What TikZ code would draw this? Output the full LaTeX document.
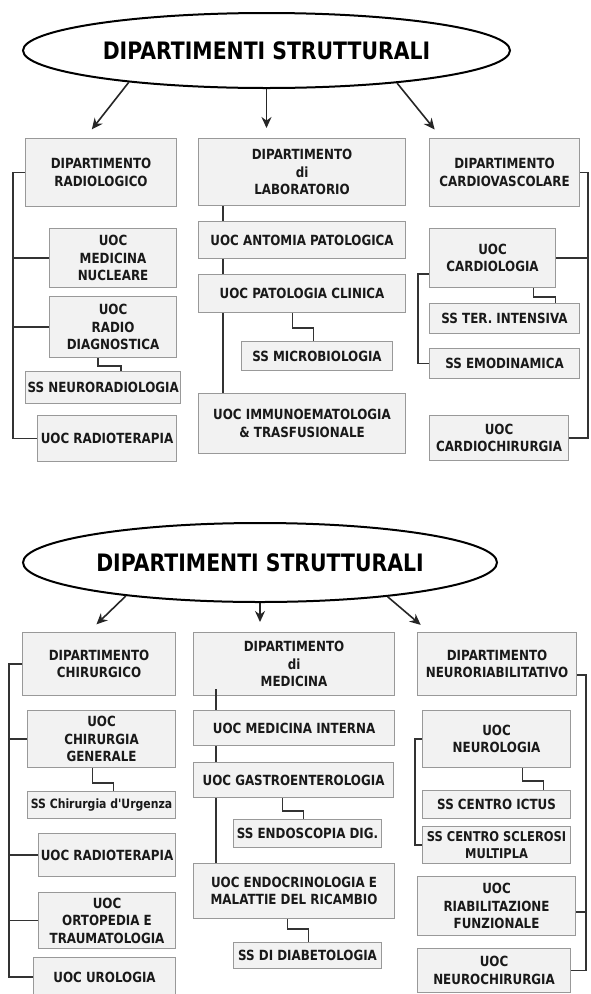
\documentclass[tikz,border=0pt]{standalone}
\usepackage{fontspec}
\newfontfamily\orgfont[FakeStretch=0.85]{DejaVu Sans Bold}
\usetikzlibrary{arrows.meta,shapes.geometric}

\begin{document}
\begin{tikzpicture}[x=1pt,y=-1pt,>={Stealth[length=11pt,width=10pt]},
                    link/.style={draw=black!80,line width=1.7pt},
                    arr/.style={->,draw=black!85,line width=1.6pt}]
  \tikzstyle{unit}=[draw=black!40,fill=black!5,line width=1.1pt,anchor=north west,
                    align=center,inner sep=2pt,text=black!90,
                    font=\orgfont\fontsize{14}{17.5}\selectfont]
  \tikzstyle{title}=[ellipse,draw=black,line width=2pt,fill=white,inner sep=0pt,
                     font=\orgfont\fontsize{24}{28}\selectfont]

  \useasboundingbox[fill=white] (0,0) rectangle (590,994);

  % upper chart
  \node[title] (top) at (266.5,50.5) [minimum width=487,minimum height=75] {DIPARTIMENTI STRUTTURALI};

  \node[unit] (rad)   at (25,138)  [minimum width=151,minimum height=68] {DIPARTIMENTO\\RADIOLOGICO};
  \node[unit] (mnuc)  at (49,228)  [minimum width=127,minimum height=59] {UOC\\MEDICINA\\NUCLEARE};
  \node[unit] (rdiag) at (49,296)  [minimum width=127,minimum height=61] {UOC\\RADIO\\DIAGNOSTICA};
  \node[unit] (sneu)  at (25,371)  [minimum width=151,minimum height=32] {SS NEURORADIOLOGIA};
  \node[unit] (rtp)   at (37,415)  [minimum width=139,minimum height=46] {UOC RADIOTERAPIA};

  \node[unit] (lab)   at (198,138) [minimum width=207,minimum height=67] {DIPARTIMENTO\\di\\LABORATORIO};
  \node[unit] (apat)  at (198,221) [minimum width=207,minimum height=37] {UOC ANTOMIA PATOLOGICA};
  \node[unit] (pclin) at (198,274) [minimum width=207,minimum height=38] {UOC PATOLOGIA CLINICA};
  \node[unit] (smic)  at (241,341) [minimum width=151,minimum height=29] {SS MICROBIOLOGIA};
  \node[unit] (imm)   at (198,393) [minimum width=207,minimum height=60] {UOC IMMUNOEMATOLOGIA\\\& TRASFUSIONALE};

  \node[unit] (cv)    at (429,138) [minimum width=150,minimum height=68] {DIPARTIMENTO\\CARDIOVASCOLARE};
  \node[unit] (card)  at (429,228) [minimum width=126,minimum height=59] {UOC\\CARDIOLOGIA};
  \node[unit] (ster)  at (429,303) [minimum width=150,minimum height=30] {SS TER. INTENSIVA};
  \node[unit] (semo)  at (429,348) [minimum width=150,minimum height=30] {SS EMODINAMICA};
  \node[unit] (cch)   at (429,415) [minimum width=139,minimum height=45] {UOC\\CARDIOCHIRURGIA};

  \draw[arr,shorten >=11pt] (top.193) -- ([xshift=-16pt]rad.north);
  \draw[arr,shorten >=10pt] (top.south) -- (top.south |- lab.north);
  \draw[arr,shorten >=11pt] (top.346) -- ([xshift=-63pt]cv.north);

  \coordinate (la) at (13,0);
  \coordinate (lb) at (223,0);
  \coordinate (lc) at (588,0);
  \coordinate (ld) at (418,0);

  \draw[link] (rad.west) -| (rtp.west -| la) -- (rtp.west);
  \draw[link] (mnuc.west -| la) -- (mnuc.west);
  \draw[link] (rdiag.west -| la) -- (rdiag.west);
  \draw[link] ([xshift=-15pt]rdiag.south) -- ++(0,8) -| ([xshift=18pt]sneu.north);

  \draw[link] (lab.south -| lb) -- (apat.north -| lb);
  \draw[link] (apat.south -| lb) -- (pclin.north -| lb);
  \draw[link] (pclin.south -| lb) -- (imm.north -| lb);
  \draw[link] ([xshift=-9.5pt]pclin.south) -- ++(0,15) -| ([xshift=-3.5pt]smic.north);

  \draw[link] (cv.east) -| (cch.east -| lc) -- (cch.east);
  \draw[link] (card.east) -- (card.east -| lc);
  \draw[link] ([yshift=14pt]card.south west) -| (semo.west -| ld) -- (semo.west);
  \draw[link] ([xshift=41pt]card.south) -- ++(0,9) -| ([xshift=51pt]ster.north);

  % lower chart
  \node[title] (bot) at (260,562.5) [minimum width=474,minimum height=79] {DIPARTIMENTI STRUTTURALI};

  \node[unit] (chir)  at (22,632)  [minimum width=153,minimum height=63] {DIPARTIMENTO\\CHIRURGICO};
  \node[unit] (cgen)  at (27,710)  [minimum width=148,minimum height=57] {UOC\\CHIRURGIA\\GENERALE};
  \node[unit] (surg)  at (27,791)  [minimum width=148,minimum height=27,inner xsep=0pt,font=\orgfont\fontsize{12.8}{15}\selectfont] {SS Chirurgia d'Urgenza};
  \node[unit] (rtp2)  at (38,833)  [minimum width=137,minimum height=43] {UOC RADIOTERAPIA};
  \node[unit] (orto)  at (38,892)  [minimum width=137,minimum height=56] {UOC\\ORTOPEDIA E\\TRAUMATOLOGIA};
  \node[unit] (uro)   at (33,957)  [minimum width=142,minimum height=39] {UOC UROLOGIA};

  \node[unit] (med)   at (193,632) [minimum width=201,minimum height=63] {DIPARTIMENTO\\di\\MEDICINA};
  \node[unit] (mint)  at (193,710) [minimum width=201,minimum height=35] {UOC MEDICINA INTERNA};
  \node[unit] (gas)   at (193,762) [minimum width=200,minimum height=35] {UOC GASTROENTEROLOGIA};
  \node[unit] (send)  at (233,819) [minimum width=148,minimum height=28] {SS ENDOSCOPIA DIG.};
  \node[unit] (endo)  at (193,863) [minimum width=201,minimum height=55] {UOC ENDOCRINOLOGIA E\\MALATTIE DEL RICAMBIO};
  \node[unit] (sdia)  at (233,942) [minimum width=148,minimum height=26] {SS DI DIABETOLOGIA};

  \node[unit] (neu)   at (417,632) [minimum width=159,minimum height=63] {DIPARTIMENTO\\NEURORIABILITATIVO};
  \node[unit] (nlog)  at (422,710) [minimum width=148,minimum height=57] {UOC\\NEUROLOGIA};
  \node[unit] (icts)  at (422,790) [minimum width=148,minimum height=28] {SS CENTRO ICTUS};
  \node[unit] (scl)   at (422,826) [minimum width=148,minimum height=37,inner xsep=0pt,font=\orgfont\fontsize{13.5}{16.5}\selectfont] {SS CENTRO SCLEROSI\\MULTIPLA};
  \node[unit] (riab)  at (417,876) [minimum width=158,minimum height=59] {UOC\\RIABILITAZIONE\\FUNZIONALE};
  \node[unit] (nch)   at (417,948) [minimum width=153,minimum height=44] {UOC\\NEUROCHIRURGIA};

  \draw[arr,shorten >=11pt] (bot.194) -- ([xshift=-10.5pt]chir.north);
  \draw[arr,shorten >=10pt] (bot.south) -- (bot.south |- med.north);
  \draw[arr,shorten >=11pt] (bot.345) -- ([xshift=-68pt]neu.north);

  \coordinate (le) at (9,0);
  \coordinate (lf) at (216,0);
  \coordinate (lg) at (586,0);
  \coordinate (lh) at (415,0);

  \draw[link] (chir.west) -| (uro.west -| le) -- (uro.west);
  \draw[link] (cgen.west -| le) -- (cgen.west);
  \draw[link] (rtp2.west -| le) -- (rtp2.west);
  \draw[link] (orto.west -| le) -- (orto.west);
  \draw[link] ([xshift=-9pt]cgen.south) -- ++(0,15) -| ([xshift=12pt]surg.north);

  \draw[link] ([yshift=7pt]med.south -| lf) -- (mint.north -| lf);
  \draw[link] (mint.south -| lf) -- (gas.north -| lf);
  \draw[link] (gas.south -| lf) -- (endo.north -| lf);
  \draw[link] ([xshift=-11pt]gas.south) -- ++(0,13) -| ([xshift=-4pt]send.north);
  \draw[link] ([xshift=-6.5pt]endo.south) -- ++(0,10) -| ([xshift=1pt]sdia.north);

  \draw[link] ([yshift=-11pt]neu.east) -| (nch.east -| lg) -- (nch.east);
  \draw[link] ([yshift=-6pt]riab.east) -- ([yshift=-6pt]riab.east -| lg);
  \draw[link] (nlog.west) -| (scl.west -| lh) -- (scl.west);
  \draw[link] ([xshift=26pt]nlog.south) -- ++(0,13) -| ([xshift=47pt]icts.north);
\end{tikzpicture}
\end{document}
